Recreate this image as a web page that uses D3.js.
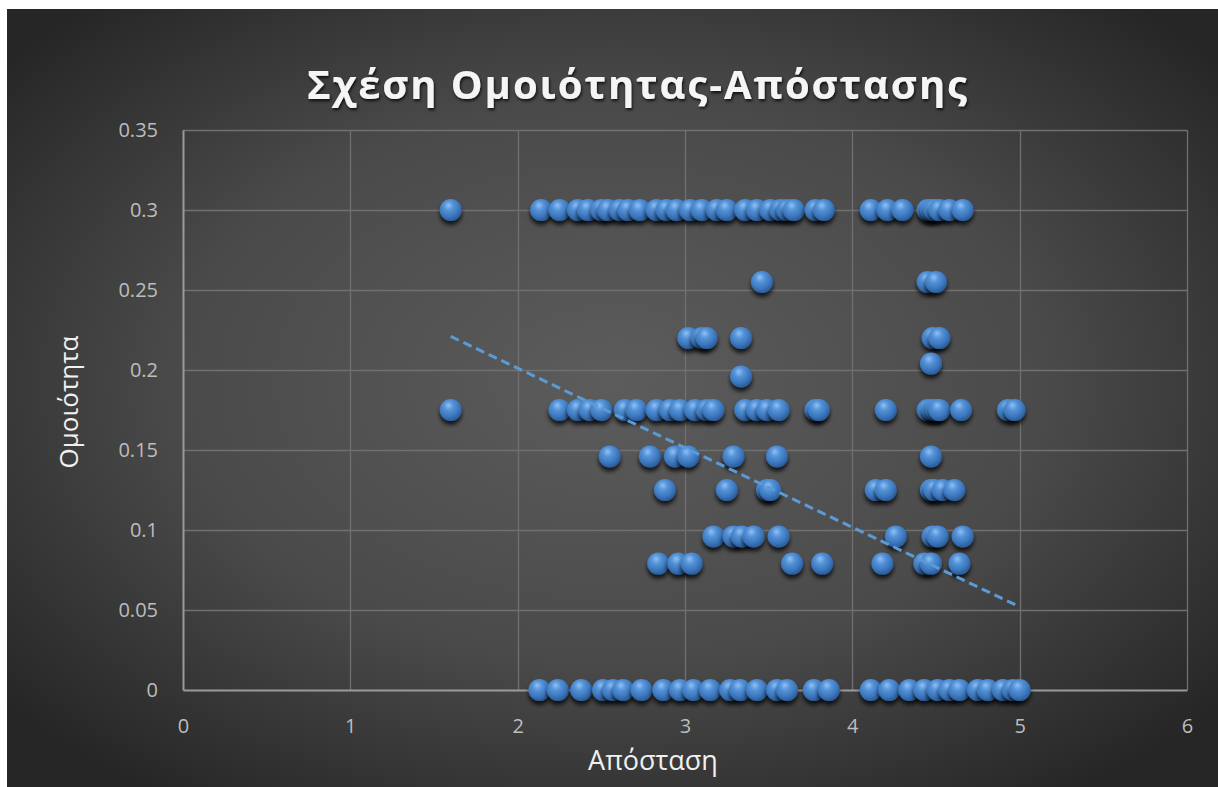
<!DOCTYPE html>
<html>
<head>
<meta charset="utf-8">
<script src="https://cdn.jsdelivr.net/npm/d3@7"></script>
<style>
  html, body { margin: 0; padding: 0; background: #ffffff; }
  svg { display: block; }
</style>
</head>
<body>
<svg id="chart" width="1218" height="787"></svg>
<script>
// Similarity levels (y) and the distances (x) observed at each level
const similarityLevels = [0.3, 0.255, 0.22, 0.204, 0.196, 0.175, 0.146, 0.125, 0.096, 0.079, 0];
const distances030 = [1.6, 2.14, 2.25, 2.36, 2.42, 2.50, 2.54, 2.61, 2.66, 2.73, 2.83, 2.89, 2.95, 3.03, 3.10, 3.19, 3.25, 3.36, 3.43, 3.51, 3.57, 3.61, 3.65, 3.78, 3.83, 4.11, 4.21, 4.30, 4.45, 4.47, 4.49, 4.52, 4.58, 4.66];
const distances0255 = [3.46, 4.45, 4.50];
const distances022 = [3.02, 3.10, 3.13, 3.335, 4.48, 4.52];
const distances0204 = [4.47];
const distances0196 = [3.335];
const distances0175 = [1.6, 2.25, 2.36, 2.43, 2.50, 2.64, 2.71, 2.83, 2.91, 2.97, 3.06, 3.13, 3.17, 3.36, 3.43, 3.49, 3.56, 3.78, 3.80, 4.20, 4.45, 4.48, 4.50, 4.52, 4.65, 4.93, 4.97];
const distances0146 = [2.55, 2.79, 2.94, 3.02, 3.29, 3.55, 4.47];
const distances0125 = [2.88, 3.25, 3.49, 3.51, 4.14, 4.20, 4.47, 4.49, 4.54, 4.61];
const distances0096 = [3.17, 3.29, 3.34, 3.41, 3.56, 4.26, 4.48, 4.51, 4.66];
const distances0079 = [2.84, 2.96, 3.04, 3.64, 3.82, 4.18, 4.43, 4.47, 4.64];
const distances0 = [2.13, 2.24, 2.38, 2.51, 2.57, 2.63, 2.74, 2.87, 2.97, 3.05, 3.15, 3.27, 3.33, 3.43, 3.55, 3.61, 3.77, 3.86, 4.11, 4.22, 4.34, 4.43, 4.51, 4.58, 4.64, 4.75, 4.81, 4.90, 4.96, 5.0];
const distancesByLevel = [distances030, distances0255, distances022, distances0204, distances0196, distances0175, distances0146, distances0125, distances0096, distances0079, distances0];

// Linear trendline end points
const trendX = [1.6, 5.0];
const trendY = [0.221, 0.052];

const xTicks = [0, 1, 2, 3, 4, 5, 6];
const yTicks = [0, 0.05, 0.1, 0.15, 0.2, 0.25, 0.3, 0.35];

const titleText = "Σχέση Ομοιότητας-Απόστασης";
const xTitle = "Απόσταση";
const yTitle = "Ομοιότητα";

const points = [];
similarityLevels.forEach((lvl, i) => {
  distancesByLevel[i].forEach(d => points.push({ x: d, y: lvl }));
});

const svg = d3.select("#chart");
const defs = svg.append("defs");

// Background gradient
const bg = defs.append("radialGradient").attr("id", "bgGrad")
  .attr("cx", "50%").attr("cy", "48%").attr("r", "65%");
bg.append("stop").attr("offset", "0%").attr("stop-color", "#5c5c5c");
bg.append("stop").attr("offset", "55%").attr("stop-color", "#4a4a4a");
bg.append("stop").attr("offset", "100%").attr("stop-color", "#262626");

// Sphere shading for markers
const sph = defs.append("radialGradient").attr("id", "sphere")
  .attr("cx", "42%").attr("cy", "35%").attr("r", "62%").attr("fx", "40%").attr("fy", "28%");
sph.append("stop").attr("offset", "0%").attr("stop-color", "#8fc0f5");
sph.append("stop").attr("offset", "35%").attr("stop-color", "#5593d8");
sph.append("stop").attr("offset", "75%").attr("stop-color", "#3c77bd");
sph.append("stop").attr("offset", "100%").attr("stop-color", "#2d5f9e");

const sh = defs.append("filter").attr("id", "markerShadow")
  .attr("x", "-50%").attr("y", "-50%").attr("width", "200%").attr("height", "220%");
sh.append("feDropShadow").attr("dx", 0).attr("dy", 4).attr("stdDeviation", 2.2)
  .attr("flood-color", "#000").attr("flood-opacity", 0.75);

const tsh = defs.append("filter").attr("id", "titleShadow")
  .attr("x", "-10%").attr("y", "-30%").attr("width", "120%").attr("height", "170%");
tsh.append("feDropShadow").attr("dx", 1).attr("dy", 2).attr("stdDeviation", 1.5)
  .attr("flood-color", "#000").attr("flood-opacity", 0.8);

svg.append("rect").attr("x", 7).attr("y", 9).attr("width", 1211).attr("height", 778)
  .attr("fill", "url(#bgGrad)");

const x = d3.scaleLinear().domain([0, 6]).range([183, 1187]);
const y = d3.scaleLinear().domain([0, 0.35]).range([690, 130]);

// Gridlines
const grid = svg.append("g");
grid.selectAll("line.h").data(yTicks.filter(t => t > 0)).join("line")
  .attr("x1", x(0)).attr("x2", x(6))
  .attr("y1", d => Math.round(y(d)) + 0.5).attr("y2", d => Math.round(y(d)) + 0.5)
  .attr("stroke", "#707070").attr("stroke-width", 1.3);
grid.selectAll("line.v").data(xTicks.filter(t => t > 0)).join("line")
  .attr("y1", y(0.35)).attr("y2", y(0))
  .attr("x1", d => Math.round(x(d)) + 0.5).attr("x2", d => Math.round(x(d)) + 0.5)
  .attr("stroke", "#707070").attr("stroke-width", 1.3);

// Axes
const xAxis = svg.append("g").attr("transform", `translate(0,${y(0)})`)
  .call(d3.axisBottom(x).tickValues(xTicks).tickSize(0).tickPadding(33).tickFormat(d3.format("d")));
const yAxis = svg.append("g").attr("transform", `translate(${x(0)},0)`)
  .call(d3.axisLeft(y).tickValues(yTicks).tickSize(0).tickPadding(25).tickFormat(d => d === 0 ? "0" : String(+d.toFixed(2))));
[xAxis, yAxis].forEach(a => {
  a.select(".domain").attr("stroke", "#9a9a9a").attr("stroke-width", 2);
  a.selectAll("text").attr("fill", "#bdbdbd").style("font-family", "'Open Sans', 'Noto Sans', sans-serif").style("font-size", "20px");
});
xAxis.selectAll("text").attr("dy", "0.5em");

// Markers
svg.append("g").selectAll("circle").data(points).join("circle")
  .attr("cx", d => x(d.x)).attr("cy", d => y(d.y)).attr("r", 11)
  .attr("fill", "url(#sphere)").attr("filter", "url(#markerShadow)");

// Trendline
svg.append("line")
  .attr("x1", x(trendX[0])).attr("y1", y(trendY[0]))
  .attr("x2", x(trendX[1])).attr("y2", y(trendY[1]))
  .attr("stroke", "#5b9bd5").attr("stroke-width", 3).attr("stroke-dasharray", "9,5");

// Titles
svg.append("text").attr("x", 637).attr("y", 99).attr("text-anchor", "middle")
  .attr("fill", "#f5f5f5").attr("filter", "url(#titleShadow)")
  .style("font-family", "'Open Sans', sans-serif").style("font-weight", 700).style("font-size", "40px")
  .attr("textLength", 660).attr("lengthAdjust", "spacing")
  .text(titleText);

svg.append("text").attr("x", 653).attr("y", 770).attr("text-anchor", "middle")
  .attr("fill", "#f0f0f0").style("font-family", "'Open Sans', sans-serif").style("font-size", "27px")
  .text(xTitle);

svg.append("text").attr("transform", "translate(78,402) rotate(-90)").attr("text-anchor", "middle")
  .attr("fill", "#f0f0f0").style("font-family", "'Open Sans', sans-serif").style("font-size", "26px")
  .text(yTitle);
</script>
</body>
</html>
